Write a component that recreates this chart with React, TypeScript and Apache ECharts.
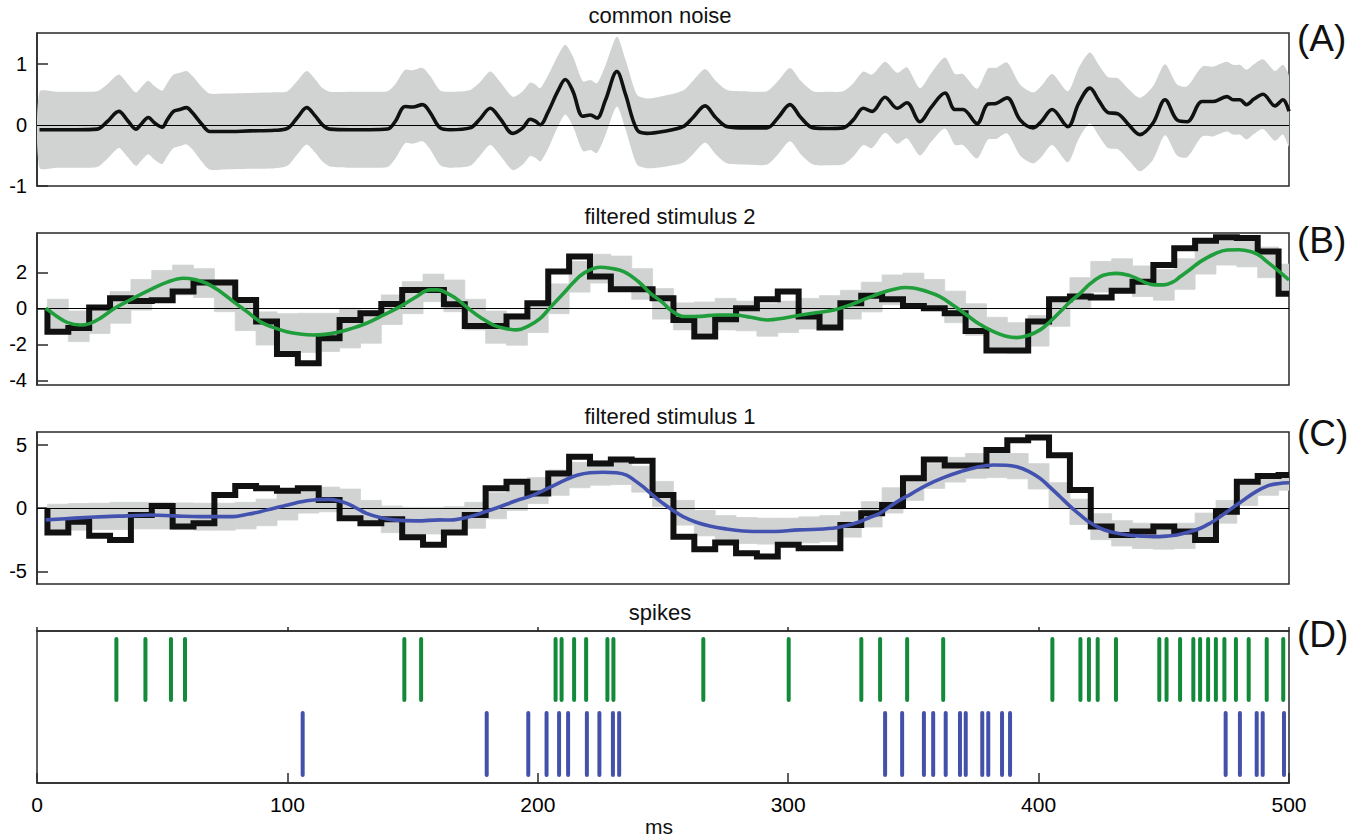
import React, { useEffect, useRef } from "react";
import * as echarts from "echarts";

// ---------- shared ----------
const X_MIN = 0;
const X_MAX = 500;
const BIN_WIDTH = 500 / 60; // ms per stimulus bin
const BIN_START = 4.17; // first bin edge (ms)

const X_TICKS = [0, 100, 200, 300, 400, 500];

// ---------- (A) common noise : [ms, mean, spread] ----------
const NOISE = [
  [1, -0.08, 0.62], [8, -0.08, 0.62], [16, -0.08, 0.62], [24, -0.07, 0.62], [28, 0.05, 0.61],
  [32.7, 0.22, 0.6], [36, 0.08, 0.6], [39.5, -0.07, 0.6], [42, 0.03, 0.6], [44.4, 0.12, 0.6],
  [47, 0.03, 0.6], [50, -0.04, 0.6], [52, 0.08, 0.6], [54.5, 0.22, 0.6], [57, 0.25, 0.6],
  [59.7, 0.28, 0.6], [62, 0.2, 0.6], [66, 0.0, 0.61], [69, -0.11, 0.62], [75, -0.11, 0.62],
  [85, -0.1, 0.62], [95, -0.09, 0.62], [100, -0.06, 0.61], [104, 0.12, 0.6], [107.7, 0.28, 0.6],
  [111, 0.15, 0.6], [114, 0.0, 0.6], [117, -0.07, 0.61], [125, -0.08, 0.62], [133, -0.08, 0.62],
  [140, -0.07, 0.62], [143, 0.05, 0.61], [147, 0.3, 0.6], [150, 0.29, 0.6], [154, 0.33, 0.6],
  [157, 0.2, 0.6], [161, -0.05, 0.61], [165, -0.08, 0.62], [173, -0.05, 0.62], [177, 0.1, 0.6],
  [181, 0.27, 0.6], [185, 0.1, 0.6], [190, -0.14, 0.6], [194, -0.05, 0.6], [197, 0.09, 0.6],
  [199, 0.06, 0.6], [201, 0.0, 0.6], [204, 0.2, 0.6], [208, 0.55, 0.58], [211, 0.74, 0.57],
  [214, 0.55, 0.57], [218, 0.14, 0.57], [221, 0.16, 0.57], [223.6, 0.11, 0.57], [227, 0.4, 0.57],
  [231.6, 0.87, 0.57], [235, 0.5, 0.57], [239.6, -0.08, 0.57], [243.6, -0.14, 0.57], [250, -0.11, 0.58],
  [258, -0.03, 0.59], [262, 0.12, 0.6], [266.8, 0.31, 0.6], [271, 0.12, 0.6], [275.6, -0.03, 0.6],
  [283, -0.05, 0.6], [291.5, -0.05, 0.6], [296, 0.12, 0.6], [300.7, 0.33, 0.6], [305, 0.12, 0.6],
  [310, -0.05, 0.6], [316, -0.06, 0.6], [322, -0.05, 0.6], [326, 0.08, 0.6], [330, 0.27, 0.6],
  [333.5, 0.22, 0.6], [338.7, 0.45, 0.58], [343.5, 0.27, 0.58], [347.4, 0.36, 0.58], [352.6, 0.05, 0.55],
  [357, 0.28, 0.56], [362.6, 0.52, 0.58], [366.6, 0.25, 0.58], [369.8, 0.25, 0.58], [375.4, 0.02, 0.57],
  [379.8, 0.34, 0.58], [383, 0.35, 0.58], [387.4, 0.44, 0.58], [392.6, 0.08, 0.58], [397.8, -0.05, 0.58],
  [401, 0.05, 0.58], [405.4, 0.25, 0.58], [411.7, -0.03, 0.58], [416, 0.35, 0.58], [420.5, 0.6, 0.58],
  [424, 0.4, 0.58], [427.7, 0.2, 0.58], [431.7, 0.18, 0.58], [436, 0.0, 0.58], [440.5, -0.16, 0.6],
  [445.7, 0.03, 0.6], [450.5, 0.41, 0.58], [455.3, 0.08, 0.58], [459.3, 0.05, 0.58], [465.3, 0.38, 0.57],
  [469.6, 0.38, 0.57], [475.2, 0.46, 0.57], [477.7, 0.41, 0.57], [480.4, 0.41, 0.57], [483, 0.33, 0.57],
  [486, 0.42, 0.57], [489.6, 0.5, 0.57], [494.4, 0.31, 0.57], [497.6, 0.41, 0.57], [500, 0.22, 0.57],
];

// ---------- (B) filtered stimulus 2 ----------
const STIM2_STEP = [
  -1.3, -1.1, 0.05, 0.55, 0.4, 0.45, 0.93, 1.43, 1.43, 0.46,
  -0.74, -2.54, -3.05, -1.67, -0.65, -0.28, 0.24, 1.02, 1.02, 0.22,
  -0.98, -0.98, -0.46, 0.28, 2.04, 2.87, 1.76, 1.06, 1.06, 0.56,
  -0.65, -1.57, -0.61, 0.0, 0.5, 0.93, -0.46, -1.07, 0.28, 0.69,
  0.5, 0.13, 0.0, -0.28, -1.26, -2.35, -2.35, -0.74, 0.5, 0.65,
  0.6, 0.98, 1.48, 2.4, 3.33, 3.75, 3.95, 3.9, 3.15, 0.8,
];
const STIM2_BAND_LO = [
  -1.25, -1.85, -1.4, -0.83, -0.1, 0.46, 0.74, 0.6, -0.19, -1.24,
  -2.04, -2.35, -2.45, -2.4, -2.2, -1.94, -0.9, -0.3, 0.37, -0.19,
  -1.2, -1.94, -2.05, -1.35, -0.3, 0.9, 1.4, 1.2, 0.5, -0.6,
  -1.2, -1.35, -1.2, -1.25, -1.55, -1.35, -1.15, -0.95, -0.6, -0.2,
  0.2, 0.25, -0.05, -0.8, -1.5, -2.2, -2.5, -2.1, -1.0, 0.0,
  0.9, 1.05, 0.65, 0.45, 1.05, 1.9, 2.4, 2.3, 1.7, 0.75,
];
const STIM2_BAND_HI = [
  0.5, -0.15, 0.15, 0.93, 1.6, 2.1, 2.4, 2.2, 1.55, 0.5,
  -0.2, -0.3, -0.28, -0.28, 0.0, -0.1, 0.74, 1.48, 1.9, 1.57,
  0.5, -0.15, -0.3, 0.4, 1.35, 2.6, 3.0, 2.9, 2.2, 1.1,
  0.3, 0.35, 0.55, 0.4, 0.25, 0.4, 0.55, 0.7, 1.0, 1.45,
  1.85, 1.95, 1.6, 0.95, 0.25, -0.5, -0.8, -0.4, 0.65, 1.7,
  2.6, 2.75, 2.35, 2.15, 2.75, 3.6, 4.0, 3.95, 3.4, 2.45,
];
const STIM2_FIT = [
  [3.5, 0.0], [8, -0.45], [12, -0.78], [17.2, -0.93], [21, -0.85], [25.2, -0.56], [31, 0.0],
  [37.1, 0.46], [45.1, 1.02], [52, 1.45], [58.4, 1.67], [63, 1.6], [67.7, 1.39], [73, 0.95],
  [78.4, 0.37], [84, -0.2], [89.1, -0.74], [94, -1.05], [99.7, -1.3], [105, -1.43], [110.3, -1.48],
  [115, -1.45], [119.7, -1.35], [125, -1.15], [131.6, -0.83], [138, -0.4], [145, 0.09], [151, 0.6],
  [157, 1.02], [160, 1.02], [165, 0.74], [169, 0.37], [173, -0.09], [177, -0.5], [182.3, -0.93],
  [187, -1.12], [191.6, -1.2], [196, -1.0], [201, -0.56], [205, 0.05], [210.3, 0.83], [214, 1.4],
  [218.3, 1.94], [225, 2.28], [229, 2.22], [234.3, 2.04], [240, 1.5], [245, 0.83], [250, 0.3],
  [253, -0.09], [258.4, -0.46], [265, -0.45], [271.7, -0.37], [278.3, -0.37], [285, -0.5],
  [291.7, -0.65], [298, -0.55], [305, -0.37], [311, -0.25], [318.3, -0.09], [325, 0.2],
  [331.6, 0.56], [337, 0.85], [342.3, 1.06], [347, 1.15], [350, 1.13], [355, 0.95], [360.6, 0.65],
  [366, 0.15], [371.3, -0.37], [376, -0.85], [382, -1.3], [387, -1.55], [391.3, -1.63], [396, -1.5],
  [400.6, -1.2], [404.5, -0.75], [408.6, -0.19], [412.5, 0.35], [416.6, 0.83], [420.5, 1.35],
  [424.6, 1.76], [428, 1.9], [431.3, 1.94], [436.7, 1.8], [440, 1.6], [443.3, 1.39], [446.5, 1.3],
  [450, 1.3], [453.5, 1.45], [456.6, 1.76], [460.5, 2.15], [464.6, 2.59], [470, 3.0], [475.3, 3.24],
  [480, 3.25], [484.6, 3.15], [488, 2.95], [491.2, 2.59], [496, 2.05], [500, 1.57],
];

// ---------- (C) filtered stimulus 1 ----------
const STIM1_STEP = [
  -1.94, -1.08, -2.2, -2.52, -0.55, 0.16, -1.47, -1.21, 1.02, 1.73,
  1.55, 1.36, 1.55, 0.63, -0.81, -1.21, -0.89, -2.31, -2.91, -1.94,
  -0.55, 1.55, 2.07, 1.15, 2.73, 4.04, 3.52, 3.83, 3.73, 1.02,
  -2.26, -3.25, -2.73, -3.57, -3.83, -2.91, -3.18, -3.18, -1.34, -0.42,
  0.24, 2.34, 3.83, 3.36, 3.36, 4.57, 5.35, 5.56, 4.17, 1.42,
  -1.47, -2.13, -1.86, -1.47, -1.86, -2.52, -0.29, 2.07, 2.52, 2.6,
];
const STIM1_BAND_LO = [
  -1.8, -1.75, -1.7, -1.7, -1.65, -1.65, -1.7, -1.75, -1.75, -1.65,
  -1.4, -0.95, -0.4, -0.3, -0.55, -1.4, -1.95, -2.1, -2.05, -2.0,
  -1.6, -0.85, -0.2, 0.35, 1.0, 1.6, 1.8, 1.85, 1.25, 0.1,
  -1.35, -2.2, -2.6, -2.8, -2.85, -2.85, -2.75, -2.65, -2.3, -1.5,
  -0.4, 0.6, 1.55, 2.05, 2.35, 2.4, 2.3, 1.5, 0.0, -1.3,
  -2.5, -3.0, -3.2, -3.25, -3.2, -2.3, -1.2, 0.2, 1.0, 1.4,
];
const STIM1_BAND_HI = [
  0.3, 0.35, 0.38, 0.45, 0.45, 0.45, 0.4, 0.38, 0.38, 0.45,
  0.7, 1.15, 1.63, 1.65, 1.5, 0.6, 0.15, 0.05, 0.05, 0.1,
  0.45, 1.2, 1.95, 2.4, 3.0, 3.6, 3.75, 3.8, 3.3, 2.1,
  0.6, -0.2, -0.6, -0.75, -0.8, -0.8, -0.7, -0.6, -0.3, 0.5,
  1.6, 2.6, 3.5, 4.0, 4.3, 4.35, 4.3, 3.5, 2.0, 0.7,
  -0.45, -1.0, -1.2, -1.25, -1.2, -0.4, 0.6, 2.1, 2.6, 2.8,
];
const STIM1_FIT = [
  [3.5, -0.94], [15, -0.8], [27.2, -0.68], [36, -0.62], [45.1, -0.55], [55, -0.62], [65.1, -0.68],
  [78.4, -0.68], [84, -0.5], [89.1, -0.29], [94, -0.05], [98.4, 0.16], [103, 0.38], [107.7, 0.58],
  [112, 0.66], [116.3, 0.68], [120, 0.6], [123.7, 0.37], [127.5, 0.0], [131.6, -0.42], [137, -0.75],
  [142.3, -0.94], [151.6, -1.02], [161, -0.94], [165, -0.95], [169, -0.85], [173, -0.68], [179, -0.3],
  [184.9, 0.1], [191, 0.55], [198.2, 1.02], [205, 1.65], [211.5, 2.26], [216, 2.6], [220.8, 2.78],
  [226, 2.82], [231.4, 2.78], [235.4, 2.6], [238.5, 2.2], [242, 1.68], [246, 1.0], [250, 0.37],
  [254, -0.2], [258, -0.68], [263, -1.1], [268.6, -1.42], [275, -1.65], [282, -1.81], [291.3, -1.86],
  [304.6, -1.73], [317.9, -1.6], [323, -1.4], [328.6, -1.08], [332.5, -0.75], [336.6, -0.42],
  [340.5, 0.1], [344.6, 0.63], [349, 1.1], [355.3, 1.81], [362, 2.4], [368.7, 2.86], [375, 3.2],
  [382, 3.39], [387, 3.38], [391.3, 3.25], [396, 2.9], [400.6, 2.34], [404.5, 1.65], [408.6, 0.89],
  [412.5, 0.15], [416.6, -0.55], [420.5, -1.15], [424.6, -1.6], [429, -1.9], [435.3, -2.13],
  [441, -2.22], [446, -2.26], [451, -2.22], [455.3, -2.13], [460, -1.9], [464.6, -1.6], [468.5, -1.2],
  [472.6, -0.68], [477, -0.05], [481.9, 0.63], [486.5, 1.25], [491.2, 1.73], [495.5, 1.92], [500, 1.99],
];

// ---------- (D) spikes (ms) ----------
const GREEN_SPIKES = [
  31.7, 43.3, 53.5, 59.1, 146.7, 153.4, 207.1, 209.5, 214.5, 219.3, 227.8, 230.2, 266.1, 300.2,
  329.2, 336.7, 347.5, 361.9, 405.5, 416.7, 420.1, 423.6, 430.9, 448.2, 451.1, 456.5, 461.8, 464.5,
  467.7, 470.8, 474.2, 478.8, 483.9, 491.1, 497.7,
];
const BLUE_SPIKES = [
  106.1, 179.6, 196.2, 203.5, 208.5, 212.1, 219.6, 224.6, 230.0, 232.5, 338.7, 345.5, 354.2, 357.9,
  362.9, 368.6, 370.9, 377.5, 379.9, 385.4, 388.6, 474.7, 480.4, 487.1, 489.5, 498.0,
];
const GREEN_ROW = [0.546, 0.947];
const BLUE_ROW = [0.053, 0.46];

// ---------- styles ----------
const FONT = "'Liberation Sans', Arial, Helvetica, sans-serif";
const FRAME = "#2a2a2a";
const GRAY = "#d1d3d3";
const BLACK = "#111111";
const GREEN_LINE = "#1f9e3b";
const BLUE_LINE = "#4352ae";
const GREEN_SPIKE = "#138a3a";
const BLUE_SPIKE = "#4451ab";

function stepData(vals: number[]) {
  const d: number[][] = [[BIN_START, 0]];
  vals.forEach((v, k) => d.push([Math.min(X_MAX, BIN_START + BIN_WIDTH * (k + 1)), v]));
  return d;
}

function binBandData(lo: number[], hi: number[]) {
  return lo.map((l, k) => [
    BIN_START + BIN_WIDTH * k,
    Math.min(X_MAX, BIN_START + BIN_WIDTH * (k + 1)),
    l,
    hi[k],
  ]);
}

const zeroLine = {
  silent: true,
  symbol: ["none", "none"],
  label: { show: false },
  lineStyle: { color: "#000", width: 1.2, type: "solid" },
  data: [{ yAxis: 0 }],
};

function yAxisFor(gridIndex: number, min: number, max: number, ticks: number[]) {
  return {
    type: "value",
    gridIndex,
    min,
    max,
    axisLine: { show: true, lineStyle: { color: FRAME, width: 1.5 } },
    axisTick: {
      show: true,
      inside: true,
      length: 11,
      customValues: ticks,
      lineStyle: { color: FRAME, width: 1.5 },
    },
    axisLabel: {
      show: true,
      customValues: ticks,
      margin: 10,
      fontSize: 20,
      color: "#000",
      fontFamily: FONT,
    },
    splitLine: { show: false },
  };
}

function hiddenX(gridIndex: number) {
  return { type: "value", gridIndex, min: X_MIN, max: X_MAX, show: false };
}

function stepBandSeries(axis: number, lo: number[], hi: number[]) {
  return {
    type: "custom",
    xAxisIndex: axis,
    yAxisIndex: axis,
    clip: true,
    z: 1,
    silent: true,
    data: binBandData(lo, hi),
    encode: { x: [0, 1], y: [2, 3] },
    renderItem: (_p: any, api: any) => {
      const a = api.coord([api.value(0), api.value(3)]);
      const b = api.coord([api.value(1), api.value(2)]);
      return {
        type: "rect",
        shape: { x: a[0], y: a[1], width: b[0] - a[0], height: b[1] - a[1] },
        style: { fill: GRAY, stroke: GRAY, lineWidth: 0.8 },
      };
    },
  };
}

function spikeSeries(times: number[], row: number[], color: string) {
  return {
    type: "custom",
    xAxisIndex: 3,
    yAxisIndex: 3,
    silent: true,
    data: times.map((t) => [t]),
    encode: { x: 0 },
    renderItem: (_p: any, api: any) => {
      const a = api.coord([api.value(0), row[0]]);
      const b = api.coord([api.value(0), row[1]]);
      return {
        type: "line",
        shape: { x1: a[0], y1: a[1], x2: b[0], y2: b[1] },
        style: { stroke: color, lineWidth: 4, lineCap: "round" },
      };
    },
  };
}

function titleText(text: string, x: number, y: number, size = 22) {
  return {
    type: "text",
    x,
    y,
    silent: true,
    style: {
      text,
      fontSize: size,
      fontFamily: FONT,
      fill: "#111",
      align: "center",
      verticalAlign: "middle",
    },
  };
}

function panelLetter(text: string, x: number, y: number) {
  return {
    type: "text",
    x,
    y,
    silent: true,
    style: {
      text,
      fontSize: 37,
      fontFamily: FONT,
      fill: "#111",
      align: "left",
      verticalAlign: "middle",
    },
  };
}

export default function App() {
  const ref = useRef<HTMLDivElement>(null);

  useEffect(() => {
    if (!ref.current) return;
    const chart = echarts.init(ref.current, undefined, { renderer: "svg" });

    const noiseBand = NOISE.map((p) => [p[0], p[1] - p[2], p[1] + p[2]]);

    const grids = [
      { left: 37, top: 33, width: 1252, height: 153 },
      { left: 37, top: 233, width: 1252, height: 152 },
      { left: 37, top: 432, width: 1252, height: 152 },
      { left: 37, top: 631, width: 1252, height: 152 },
    ].map((g) => ({
      ...g,
      show: true,
      borderColor: FRAME,
      borderWidth: 1.5,
      backgroundColor: "transparent",
    }));

    const option: any = {
      animation: false,
      backgroundColor: "#ffffff",
      grid: grids,
      xAxis: [
        hiddenX(0),
        hiddenX(1),
        hiddenX(2),
        {
          type: "value",
          gridIndex: 3,
          min: X_MIN,
          max: X_MAX,
          interval: 100,
          position: "bottom",
          axisLine: { show: true, lineStyle: { color: FRAME, width: 1.5 } },
          axisTick: {
            show: true,
            inside: true,
            length: 10,
            customValues: X_TICKS,
            lineStyle: { color: FRAME, width: 1.5 },
          },
          axisLabel: {
            show: true,
            customValues: X_TICKS,
            margin: 11,
            fontSize: 21,
            color: "#000",
            fontFamily: FONT,
          },
          splitLine: { show: false },
        },
        {
          type: "value",
          gridIndex: 3,
          min: X_MIN,
          max: X_MAX,
          interval: 100,
          position: "top",
          axisLine: { show: true, lineStyle: { color: FRAME, width: 1.5 } },
          axisTick: {
            show: true,
            inside: false,
            length: 4,
            customValues: X_TICKS,
            lineStyle: { color: FRAME, width: 1.5 },
          },
          axisLabel: { show: false },
          splitLine: { show: false },
        },
      ],
      yAxis: [
        yAxisFor(0, -1, 1.5, [-1, 0, 1]),
        yAxisFor(1, -4.26, 4.18, [-4, -2, 0, 2]),
        yAxisFor(2, -6, 6, [-5, 0, 5]),
        { type: "value", gridIndex: 3, min: 0, max: 1, show: false },
      ],
      series: [
        // (A)
        {
          type: "custom",
          xAxisIndex: 0,
          yAxisIndex: 0,
          clip: true,
          z: 1,
          silent: true,
          data: noiseBand,
          encode: { x: 0, y: [1, 2] },
          renderItem: (p: any, api: any) => {
            if (p.dataIndex !== 0) return null;
            const upper: number[][] = noiseBand.map((d) => api.coord([d[0], d[2]]));
            const lower: number[][] = noiseBand.map((d) => api.coord([d[0], d[1]])).reverse();
            return {
              type: "group",
              children: [
                {
                  type: "polygon",
                  shape: { points: upper.concat(lower), smooth: 0.25 },
                  style: { fill: GRAY },
                },
              ],
            };
          },
        },
        {
          type: "line",
          xAxisIndex: 0,
          yAxisIndex: 0,
          data: NOISE.map((p) => [p[0], p[1]]),
          smooth: 0.35,
          showSymbol: false,
          silent: true,
          z: 3,
          lineStyle: { color: BLACK, width: 3.6 },
          markLine: zeroLine,
        },
        // (B)
        stepBandSeries(1, STIM2_BAND_LO, STIM2_BAND_HI),
        {
          type: "line",
          xAxisIndex: 1,
          yAxisIndex: 1,
          data: stepData(STIM2_STEP),
          step: "start",
          showSymbol: false,
          silent: true,
          z: 3,
          lineStyle: { color: BLACK, width: 6, join: "miter", cap: "butt" },
          markLine: zeroLine,
        },
        {
          type: "line",
          xAxisIndex: 1,
          yAxisIndex: 1,
          data: STIM2_FIT,
          smooth: 0.4,
          showSymbol: false,
          silent: true,
          z: 6,
          lineStyle: { color: GREEN_LINE, width: 3.6 },
        },
        // (C)
        stepBandSeries(2, STIM1_BAND_LO, STIM1_BAND_HI),
        {
          type: "line",
          xAxisIndex: 2,
          yAxisIndex: 2,
          data: stepData(STIM1_STEP),
          step: "start",
          showSymbol: false,
          silent: true,
          z: 3,
          lineStyle: { color: BLACK, width: 6, join: "miter", cap: "butt" },
          markLine: zeroLine,
        },
        {
          type: "line",
          xAxisIndex: 2,
          yAxisIndex: 2,
          data: STIM1_FIT,
          smooth: 0.4,
          showSymbol: false,
          silent: true,
          z: 6,
          lineStyle: { color: BLUE_LINE, width: 3.6 },
        },
        // (D)
        spikeSeries(GREEN_SPIKES, GREEN_ROW, GREEN_SPIKE),
        spikeSeries(BLUE_SPIKES, BLUE_ROW, BLUE_SPIKE),
      ],
      graphic: [
        titleText("common noise", 660, 15),
        titleText("filtered stimulus 2", 670, 216),
        titleText("filtered stimulus 1", 670, 416),
        titleText("spikes", 660, 612),
        titleText("ms", 659, 826, 21),
        panelLetter("(A)", 1297, 38),
        panelLetter("(B)", 1297, 240),
        panelLetter("(C)", 1297, 433),
        panelLetter("(D)", 1297, 634),
      ],
    };

    chart.setOption(option);
    return () => chart.dispose();
  }, []);

  return (
    <div
      ref={ref}
      style={{ position: "absolute", left: 0, top: 0, width: 1367, height: 838 }}
    />
  );
}
